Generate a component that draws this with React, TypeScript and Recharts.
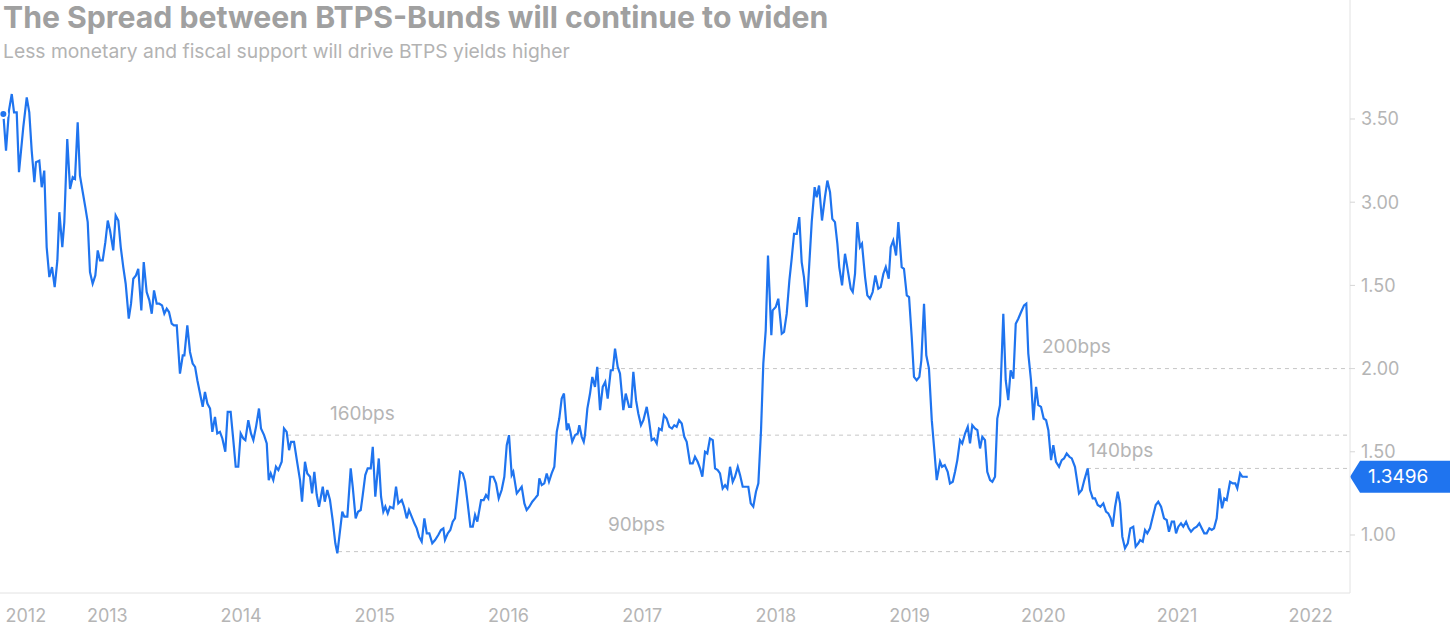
import React from 'react';
import { LineChart, Line, XAxis, YAxis, ReferenceLine, ReferenceDot } from 'recharts';

// BTP-Bund spread, decimal year -> spread (%)
const y2012: [number, number][] = [
  [2012.222, 3.53], [2012.242, 3.31], [2012.264, 3.55], [2012.285, 3.65], [2012.302, 3.54], [2012.322, 3.54],
  [2012.339, 3.18], [2012.371, 3.45], [2012.397, 3.63], [2012.416, 3.54], [2012.434, 3.31], [2012.454, 3.12],
  [2012.466, 3.24], [2012.491, 3.25], [2012.509, 3.09], [2012.528, 3.19], [2012.546, 2.73], [2012.566, 2.55],
  [2012.586, 2.61], [2012.606, 2.49], [2012.626, 2.65], [2012.641, 2.94], [2012.663, 2.73], [2012.678, 2.88],
  [2012.7, 3.38], [2012.721, 3.08], [2012.741, 3.15], [2012.758, 3.14], [2012.778, 3.48], [2012.795, 3.16],
  [2012.816, 3.06], [2012.835, 2.97], [2012.853, 2.88], [2012.87, 2.58], [2012.89, 2.51], [2012.91, 2.56],
  [2012.928, 2.71], [2012.945, 2.65], [2012.965, 2.65], [2012.985, 2.76],
];

const y2013: [number, number][] = [
  [2013.003, 2.89], [2013.02, 2.83], [2013.044, 2.71], [2013.062, 2.92], [2013.082, 2.89], [2013.1, 2.73],
  [2013.119, 2.61], [2013.137, 2.51], [2013.16, 2.3], [2013.177, 2.39], [2013.194, 2.54], [2013.214, 2.56],
  [2013.231, 2.6], [2013.254, 2.35], [2013.272, 2.64], [2013.294, 2.46], [2013.314, 2.41], [2013.332, 2.33],
  [2013.349, 2.47], [2013.369, 2.39], [2013.388, 2.39], [2013.409, 2.38], [2013.426, 2.33], [2013.444, 2.36],
  [2013.461, 2.34], [2013.481, 2.27], [2013.498, 2.26], [2013.519, 2.26], [2013.543, 1.97], [2013.564, 2.08],
  [2013.576, 2.08], [2013.598, 2.26], [2013.618, 2.1], [2013.638, 2.03], [2013.656, 2.01], [2013.673, 1.93],
  [2013.693, 1.85], [2013.713, 1.77], [2013.73, 1.86], [2013.748, 1.79], [2013.768, 1.76], [2013.785, 1.62],
  [2013.805, 1.71], [2013.822, 1.61], [2013.842, 1.62], [2013.86, 1.58], [2013.882, 1.5], [2013.9, 1.74],
  [2013.922, 1.74], [2013.942, 1.57], [2013.96, 1.41], [2013.979, 1.41], [2013.997, 1.61],
];

const y2014: [number, number][] = [
  [2014.017, 1.58], [2014.032, 1.57], [2014.054, 1.69], [2014.074, 1.61], [2014.092, 1.57], [2014.112, 1.65],
  [2014.134, 1.76], [2014.149, 1.64], [2014.172, 1.6], [2014.192, 1.55], [2014.207, 1.33], [2014.222, 1.37],
  [2014.241, 1.33], [2014.261, 1.41], [2014.279, 1.39], [2014.304, 1.44], [2014.321, 1.64], [2014.341, 1.62],
  [2014.359, 1.51], [2014.374, 1.56], [2014.396, 1.56], [2014.421, 1.43], [2014.441, 1.33], [2014.456, 1.2],
  [2014.478, 1.44], [2014.495, 1.37], [2014.516, 1.35], [2014.531, 1.25], [2014.548, 1.38], [2014.566, 1.24],
  [2014.583, 1.17], [2014.611, 1.29], [2014.626, 1.2], [2014.645, 1.27], [2014.665, 1.21], [2014.685, 1.09],
  [2014.705, 0.95], [2014.72, 0.89], [2014.735, 0.99], [2014.757, 1.14], [2014.772, 1.11], [2014.795, 1.11],
  [2014.82, 1.4], [2014.835, 1.29], [2014.857, 1.1], [2014.875, 1.14], [2014.895, 1.15], [2014.91, 1.24],
  [2014.929, 1.36], [2014.947, 1.4], [2014.97, 1.4], [2014.985, 1.53],
];

const y2015: [number, number][] = [
  [2015.004, 1.23], [2015.03, 1.46], [2015.047, 1.23], [2015.064, 1.14], [2015.079, 1.17], [2015.097, 1.13],
  [2015.114, 1.17], [2015.139, 1.16], [2015.159, 1.29], [2015.176, 1.19], [2015.202, 1.21], [2015.219, 1.17],
  [2015.239, 1.1], [2015.256, 1.15], [2015.276, 1.11], [2015.296, 1.07], [2015.314, 1.04], [2015.331, 0.99],
  [2015.351, 0.96], [2015.371, 1.1], [2015.389, 1.01], [2015.408, 1.01], [2015.43, 0.95], [2015.451, 0.97],
  [2015.475, 1.0], [2015.495, 1.03], [2015.513, 1.04], [2015.525, 0.97], [2015.546, 1.01], [2015.565, 1.03],
  [2015.583, 1.08], [2015.6, 1.1], [2015.638, 1.38], [2015.658, 1.37], [2015.675, 1.32], [2015.695, 1.19],
  [2015.715, 1.05], [2015.733, 1.05], [2015.75, 1.12], [2015.767, 1.08], [2015.795, 1.21], [2015.815, 1.21],
  [2015.832, 1.24], [2015.849, 1.22], [2015.864, 1.35], [2015.887, 1.35], [2015.907, 1.31], [2015.927, 1.22],
  [2015.949, 1.27], [2015.969, 1.35], [2015.987, 1.54],
];

const y2016: [number, number][] = [
  [2016.004, 1.6], [2016.024, 1.36], [2016.036, 1.38], [2016.062, 1.25], [2016.081, 1.27], [2016.099, 1.29],
  [2016.119, 1.19], [2016.136, 1.15], [2016.156, 1.17], [2016.178, 1.2], [2016.199, 1.22], [2016.219, 1.24],
  [2016.231, 1.34], [2016.249, 1.3], [2016.268, 1.31], [2016.286, 1.37], [2016.303, 1.32], [2016.323, 1.37],
  [2016.343, 1.41], [2016.361, 1.62], [2016.38, 1.7], [2016.398, 1.82], [2016.415, 1.85], [2016.436, 1.63],
  [2016.448, 1.67], [2016.463, 1.62], [2016.477, 1.56], [2016.498, 1.6], [2016.518, 1.61], [2016.53, 1.66],
  [2016.548, 1.59], [2016.563, 1.56], [2016.572, 1.6], [2016.59, 1.76], [2016.61, 1.85], [2016.627, 1.95],
  [2016.647, 1.89], [2016.664, 2.01], [2016.685, 1.75], [2016.705, 1.89], [2016.724, 1.92], [2016.742, 1.82],
  [2016.765, 1.99], [2016.78, 1.99], [2016.797, 2.12], [2016.817, 2.01], [2016.834, 1.97], [2016.859, 1.75],
  [2016.877, 1.85], [2016.902, 1.77], [2016.917, 1.77], [2016.934, 1.98], [2016.954, 1.81], [2016.971, 1.73],
  [2016.991, 1.66],
];

const y2017: [number, number][] = [
  [2017.009, 1.69], [2017.034, 1.77], [2017.051, 1.69], [2017.071, 1.57], [2017.089, 1.58], [2017.109, 1.55],
  [2017.126, 1.64], [2017.146, 1.63], [2017.163, 1.72], [2017.183, 1.7], [2017.203, 1.65], [2017.223, 1.64],
  [2017.24, 1.66], [2017.258, 1.65], [2017.276, 1.69], [2017.296, 1.67], [2017.315, 1.59], [2017.333, 1.56],
  [2017.358, 1.43], [2017.378, 1.43], [2017.395, 1.47], [2017.415, 1.44], [2017.433, 1.4], [2017.45, 1.35],
  [2017.47, 1.5], [2017.487, 1.49], [2017.507, 1.58], [2017.528, 1.57], [2017.545, 1.4], [2017.565, 1.39],
  [2017.582, 1.37], [2017.602, 1.28], [2017.62, 1.3], [2017.637, 1.28], [2017.657, 1.41], [2017.677, 1.32],
  [2017.694, 1.35], [2017.715, 1.41], [2017.732, 1.36], [2017.752, 1.29], [2017.771, 1.29], [2017.794, 1.29],
  [2017.812, 1.19], [2017.831, 1.17], [2017.851, 1.26], [2017.869, 1.31], [2017.889, 1.63], [2017.906, 2.03],
  [2017.924, 2.23], [2017.941, 2.68], [2017.951, 2.49], [2017.966, 2.2], [2017.976, 2.35], [2017.999, 2.37],
];

const y2018: [number, number][] = [
  [2018.018, 2.42], [2018.044, 2.21], [2018.061, 2.22], [2018.081, 2.33], [2018.101, 2.53], [2018.118, 2.66],
  [2018.136, 2.81], [2018.156, 2.81], [2018.175, 2.91], [2018.193, 2.64], [2018.21, 2.55], [2018.231, 2.37],
  [2018.25, 2.63], [2018.268, 2.88], [2018.29, 3.09], [2018.305, 3.03], [2018.323, 3.1], [2018.345, 2.89],
  [2018.367, 3.03], [2018.385, 3.13], [2018.405, 3.06], [2018.422, 2.9], [2018.442, 2.88], [2018.46, 2.75],
  [2018.474, 2.61], [2018.495, 2.5], [2018.517, 2.69], [2018.534, 2.61], [2018.56, 2.48], [2018.575, 2.46],
  [2018.592, 2.57], [2018.609, 2.88], [2018.629, 2.73], [2018.644, 2.75], [2018.667, 2.55], [2018.684, 2.44],
  [2018.704, 2.42], [2018.724, 2.46], [2018.744, 2.56], [2018.766, 2.48], [2018.784, 2.49], [2018.804, 2.57],
  [2018.822, 2.61], [2018.844, 2.54], [2018.859, 2.73], [2018.878, 2.77], [2018.899, 2.68], [2018.916, 2.88],
  [2018.941, 2.61], [2018.958, 2.6], [2018.979, 2.44], [2018.996, 2.43],
];

const y2019: [number, number][] = [
  [2019.016, 2.19], [2019.033, 1.95], [2019.053, 1.93], [2019.073, 1.95], [2019.088, 2.05], [2019.108, 2.39],
  [2019.125, 2.08], [2019.145, 2.0], [2019.166, 1.69], [2019.185, 1.51], [2019.203, 1.33], [2019.228, 1.44],
  [2019.243, 1.41], [2019.263, 1.42], [2019.285, 1.38], [2019.302, 1.31], [2019.323, 1.32], [2019.34, 1.38],
  [2019.357, 1.45], [2019.377, 1.57], [2019.394, 1.55], [2019.415, 1.61], [2019.435, 1.65], [2019.452, 1.55],
  [2019.469, 1.66], [2019.489, 1.64], [2019.507, 1.63], [2019.527, 1.52], [2019.544, 1.59], [2019.564, 1.57],
  [2019.581, 1.38], [2019.602, 1.33], [2019.619, 1.32], [2019.639, 1.35], [2019.656, 1.7], [2019.676, 1.78],
  [2019.701, 2.33], [2019.719, 1.93], [2019.738, 1.81], [2019.756, 1.99], [2019.776, 1.94], [2019.794, 2.27],
  [2019.813, 2.3], [2019.834, 2.34], [2019.856, 2.38], [2019.873, 2.39], [2019.888, 2.09], [2019.908, 1.93],
  [2019.926, 1.69], [2019.946, 1.89], [2019.963, 1.78], [2019.983, 1.77],
];

const y2020: [number, number][] = [
  [2020.003, 1.7], [2020.021, 1.69], [2020.038, 1.63], [2020.058, 1.45], [2020.075, 1.54], [2020.095, 1.44],
  [2020.118, 1.41], [2020.138, 1.45], [2020.155, 1.46], [2020.175, 1.49], [2020.195, 1.47], [2020.213, 1.46],
  [2020.237, 1.41], [2020.267, 1.25], [2020.288, 1.27], [2020.307, 1.33], [2020.332, 1.4], [2020.35, 1.27],
  [2020.37, 1.22], [2020.387, 1.22], [2020.407, 1.18], [2020.427, 1.17], [2020.449, 1.19], [2020.469, 1.14],
  [2020.486, 1.13], [2020.504, 1.1], [2020.519, 1.05], [2020.537, 1.17], [2020.557, 1.26], [2020.574, 1.19],
  [2020.591, 0.99], [2020.611, 0.92], [2020.632, 0.95], [2020.651, 1.04], [2020.673, 1.05], [2020.691, 0.93],
  [2020.711, 0.95], [2020.724, 0.97], [2020.744, 0.96], [2020.761, 1.03], [2020.778, 1.01], [2020.798, 1.04],
  [2020.819, 1.11], [2020.841, 1.18], [2020.86, 1.2], [2020.881, 1.17], [2020.903, 1.1], [2020.923, 1.09],
  [2020.94, 1.02], [2020.961, 1.08], [2020.978, 1.08], [2020.993, 1.01],
];

const y2021: [number, number][] = [
  [2021.01, 1.05], [2021.03, 1.07], [2021.047, 1.05], [2021.068, 1.08], [2021.088, 1.04], [2021.105, 1.02],
  [2021.127, 1.04], [2021.148, 1.05], [2021.167, 1.07], [2021.185, 1.04], [2021.204, 1.01], [2021.222, 1.01],
  [2021.242, 1.04], [2021.26, 1.03], [2021.277, 1.04], [2021.297, 1.1], [2021.317, 1.28], [2021.337, 1.16],
  [2021.354, 1.22], [2021.372, 1.21], [2021.397, 1.32], [2021.417, 1.31], [2021.436, 1.31], [2021.451, 1.28],
  [2021.472, 1.37], [2021.489, 1.35], [2021.509, 1.35], [2021.529, 1.3496],
];

const lastValue = 1.3496;

const xDomain: [number, number] = [2012.197, 2022.294];
const xTicks = [2012.39, 2013, 2014, 2015, 2016, 2017, 2018, 2019, 2020, 2021, 2022];
const xTickLabels = ['2012', '2013', '2014', '2015', '2016', '2017', '2018', '2019', '2020', '2021', '2022'];

const yDomain: [number, number] = [0.6514, 4.2151];
const yTicks = [1, 1.5, 2, 2.5, 3, 3.5];
const yTickLabels = ['1.00', '1.50', '2.00', '1.50', '3.00', '3.50'];

// support / resistance levels: where the dashed line starts, where its label sits
const levels = [
  { name: '160bps', value: 1.6, from: 2014.344, labelAt: 2014.665, labelValue: 1.733 },
  { name: '90bps', value: 0.9, from: 2014.725, labelAt: 2016.744, labelValue: 1.066 },
  { name: '200bps', value: 2.0, from: 2016.662, labelAt: 2019.99, labelValue: 2.136 },
  { name: '140bps', value: 1.4, from: 2020.327, labelAt: 2020.335, labelValue: 1.511 },
];

const data = [...y2012, ...y2013, ...y2014, ...y2015, ...y2016, ...y2017, ...y2018, ...y2019, ...y2020, ...y2021]
  .map(([t, v]) => ({ t, v }));

const BLUE = '#1f74ef';
const GREY = '#b5b5b5';

const PriceTag = (props: any) => {
  const { viewBox } = props;
  const x = viewBox.x + viewBox.width;
  const y = viewBox.y;
  const pts = `${x},${y} ${x + 10},${y - 16} ${x + 100},${y - 16} ${x + 100},${y + 16} ${x + 10},${y + 16}`;
  return (
    <g>
      <polygon points={pts} fill={BLUE} />
      <text x={x + 18} y={y} fill="#fff" fontSize={19} dominantBaseline="central">
        {lastValue.toFixed(4)}
      </text>
    </g>
  );
};

const App = () => {
  return (
    <div style={{ position: 'absolute', left: 0, top: 0, width: 1453, height: 627, fontFamily: 'Inter, sans-serif', background: '#fff' }}>
      <LineChart width={1453} height={627} data={data} margin={{ top: 0, right: 0, bottom: 0, left: 0 }}>
        <XAxis
          dataKey="t"
          type="number"
          domain={xDomain}
          allowDataOverflow
          ticks={xTicks}
          interval={0}
          tickFormatter={(v: number) => xTickLabels[xTicks.indexOf(v)]}
          height={34}
          tickLine={false}
          tickSize={6}
          tickMargin={10}
          axisLine={{ stroke: '#e2e2e2' }}
          tick={{ fill: GREY, fontSize: 18 }}
        />
        <YAxis
          orientation="right"
          type="number"
          domain={yDomain}
          allowDataOverflow
          ticks={yTicks}
          interval={0}
          tickFormatter={(v: number) => yTickLabels[yTicks.indexOf(v)]}
          width={103}
          tickSize={5}
          tickMargin={6}
          tickLine={{ stroke: '#d6d6d6' }}
          axisLine={{ stroke: '#e2e2e2' }}
          tick={{ fill: GREY, fontSize: 18 }}
        />
        {levels.map(l => (
          <ReferenceLine
            key={l.name}
            segment={[{ x: l.from, y: l.value }, { x: xDomain[1], y: l.value }]}
            stroke="#c6c6c6"
            strokeDasharray="4 4"
          />
        ))}
        {levels.map(l => (
          <ReferenceDot
            key={'lbl' + l.name}
            x={l.labelAt}
            y={l.labelValue}
            r={0}
            fill="none"
            stroke="none"
            label={{ value: l.name, position: 'right', offset: 0, fill: GREY, fontSize: 19 }}
          />
        ))}
        <Line
          type="linear"
          dataKey="v"
          stroke={BLUE}
          strokeWidth={2.2}
          dot={false}
          isAnimationActive={false}
        />
        <ReferenceLine y={lastValue} stroke="none" label={PriceTag} />
      </LineChart>
      <div style={{ position: 'absolute', left: 3, top: -1, fontSize: 30.2, lineHeight: '36px', fontWeight: 700, color: '#a0a0a0', whiteSpace: 'nowrap' }}>
        The Spread between BTPS-Bunds will continue to widen
      </div>
      <div style={{ position: 'absolute', left: 3, top: 39, fontSize: 19.3, lineHeight: '24px', color: '#b3b3b3', whiteSpace: 'nowrap' }}>
        Less monetary and fiscal support will drive BTPS yields higher
      </div>
    </div>
  );
};

export default App;
